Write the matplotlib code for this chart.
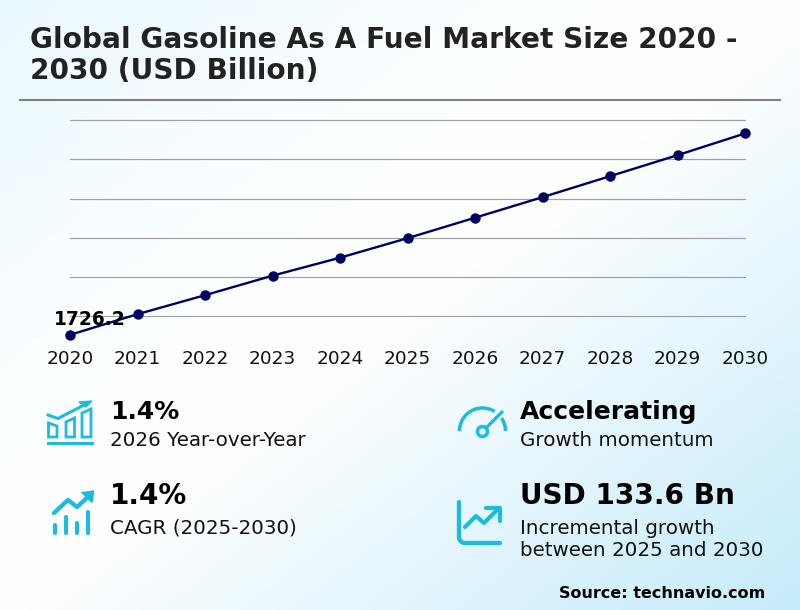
#!/usr/bin/env python3
import numpy as np
import matplotlib
matplotlib.use('Agg')
import matplotlib.pyplot as plt
from matplotlib.patches import Arc, Circle, Polygon

W, H = 800, 610

years = [2020, 2021, 2022, 2023, 2024, 2025, 2026, 2027, 2028, 2029, 2030]
market_size = [1726.2, 1752.6, 1776.8, 1801.7, 1824.6, 1849.5, 1875.6, 1901.8, 1928.6, 1955.4, 1983.1]
grid_values = [1750, 1800, 1850, 1900, 1950, 2000]

title_lines = ['Global Gasoline As A Fuel Market Size 2020 -', '2030 (USD Billion)']
first_label = '1726.2'
stat_year = ['1.4%', '2026 Year-over-Year']
stat_cagr = ['1.4%', 'CAGR (2025-2030)']
stat_momentum = ['Accelerating', 'Growth momentum']
stat_growth = ['USD 133.6 Bn', 'Incremental growth', 'between 2025 and 2030']
source = 'Source: technavio.com'

NAVY = '#000060'
ICON = '#1cbcdc'

fig = plt.figure(figsize=(W / 100, H / 100), dpi=100)

# фон: диагональный градиент
bg = fig.add_axes([0, 0, 1, 1], zorder=0)
yy, xx = np.mgrid[0:1:300j, 0:1:300j]
t = (xx + yy) / 2
stops = [0, 0.3, 0.5, 1.0]
stop_colors = np.array([[0xea, 0xf9, 0xff], [0xfa, 0xfe, 0xff], [0xff, 0xff, 0xff], [0xc5, 0xeb, 0xfa]]) / 255
img = np.dstack([np.interp(t, stops, stop_colors[:, c]) for c in range(3)])
bg.imshow(img, extent=[0, 1, 0, 1], origin='upper', aspect='auto')
bg.axis('off')

# основной график
px_per_unit = 39.2 / 50
ax = fig.add_axes([70 / W, 1 - 345 / H, 676 / W, 235 / H], zorder=1)
ax.patch.set_alpha(0)
ax.set_xlim(2020, 2020 + 676 / 67.5)
ax.set_ylim(1750 - (345 - 316.2) / px_per_unit, 1750 + (316.2 - 110) / px_per_unit)
for g in grid_values:
    ax.axhline(g, color='#a0a0a0', lw=0.85, zorder=1)
ax.plot(years, market_size, color=NAVY, lw=1.7, marker='o', ms=6.5, zorder=3, clip_on=False)
ax.set_xticks(years)
ax.set_xticklabels(years, fontsize=13.3, color='#111111')
ax.tick_params(axis='x', length=0, pad=3.4)
ax.set_yticks([])
for s in ax.spines.values():
    s.set_visible(False)
ax.annotate(first_label, (years[0], market_size[0]), xytext=(14.5, 11), textcoords='offset points',
            ha='center', va='center', fontsize=13.4, fontweight='bold', color='#000000', zorder=4)

# слой с текстом и иконками, координаты в пикселях
ov = fig.add_axes([0, 0, 1, 1], zorder=2)
ov.set_xlim(0, W)
ov.set_ylim(H, 0)
ov.axis('off')

ov.text(30, 40, title_lines[0], fontsize=20.15, fontweight='bold', color='#222222', va='center')
ov.text(30, 71, title_lines[1], fontsize=20.15, fontweight='bold', color='#222222', va='center')
ov.plot([20, 780], [100, 100], color='#808080', lw=1.5)


def big(x, y, s, size):
    ov.text(x, y, s, fontsize=size, fontweight='bold', color='#000000', va='center')


def small(x, y, s):
    ov.text(x, y, s, fontsize=14.35, color='#111111', va='center')


big(110, 412, stat_year[0], 18)
small(110, 441, stat_year[1])
big(110, 496, stat_cagr[0], 20.1)
small(110, 528, stat_cagr[1])
big(520, 412, stat_momentum[0], 18)
small(520, 441, stat_momentum[1])
big(520, 496, stat_growth[0], 20.1)
small(520, 528, stat_growth[1])
small(520, 550, stat_growth[2])
ov.text(765, 594, source, fontsize=11.5, fontweight='bold', color='#000000', ha='right', va='center')

# иконка: столбики со стрелкой
for pts in [[(48.5, 423), (57, 426), (57, 437), (48.5, 437)],
            [(66, 422), (74.5, 418), (74.5, 437), (66, 437)],
            [(82, 413), (91, 409), (91, 437), (82, 437)]]:
    ov.add_patch(Polygon(pts, closed=True, fill=False, ec=ICON, lw=2))
ov.plot([48, 92], [442.5, 442.5], color=ICON, lw=2.2)
ov.plot([48, 58, 88], [415, 418.5, 403], color=ICON, lw=2.2)
ov.add_patch(Polygon([[79, 402], [92, 401], [86, 407]], fc=ICON, ec=ICON, lw=1))

# иконка: линия тренда и полоски
round_line = dict(color=ICON, solid_capstyle='round', solid_joinstyle='round')
ov.plot([54, 68, 77, 92], [513, 500, 507, 493], lw=3.1, **round_line)
ov.add_patch(Polygon([[83, 493], [93, 491.5], [92, 502]], fc=ICON, ec=ICON, lw=1.6))
for x0, y0 in [(55, 525), (66, 517), (77, 523), (88, 512)]:
    ov.plot([x0, x0], [y0, 532.5], lw=3, **round_line)

# иконка: спидометр
ov.add_patch(Arc((482.5, 431), 46, 46, theta1=180, theta2=302, ec=ICON, lw=2.5))
ov.add_patch(Arc((482.5, 431), 46, 46, theta1=326, theta2=360, ec=ICON, lw=2.5))
ov.add_patch(Circle((482.5, 431.5), 5, fill=False, ec=ICON, lw=2.5))
ov.plot([487, 502], [427, 412], lw=2.4, **round_line)

# иконка: график в осях
corner = np.radians(np.linspace(180, 90, 10))
axis_x = np.r_[459, 465 + 6 * np.cos(corner), 500]
axis_y = np.r_[502, 537 + 6 * np.sin(corner), 543]
ov.plot(axis_x, axis_y, lw=3.1, **round_line)
ov.plot([465, 476, 484, 499], [527, 516, 523, 508], lw=3, **round_line)
ov.plot([486, 500, 500], [507.5, 507.5, 521], lw=3, **round_line)

fig.savefig('out.png', dpi=100)
